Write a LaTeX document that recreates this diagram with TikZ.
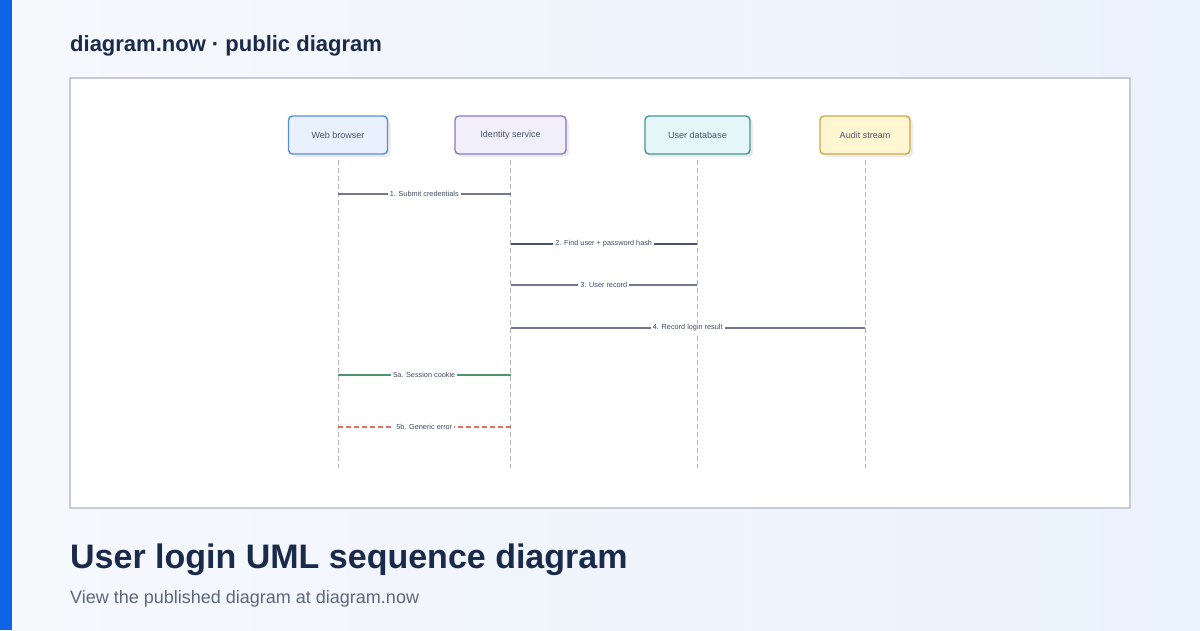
\documentclass[tikz,border=0pt]{standalone}
\usepackage{fontspec}
\setmainfont{Liberation Sans}
\usetikzlibrary{shadows,calc}
\definecolor{ink}{RGB}{26,42,74}
\definecolor{subink}{RGB}{90,104,128}
\definecolor{brand}{RGB}{14,99,230}
\definecolor{bgleft}{RGB}{246,248,252}
\definecolor{bgright}{RGB}{234,242,253}
\definecolor{lifegray}{RGB}{176,180,192}
\definecolor{msggray}{RGB}{110,120,145}
\definecolor{msgnavy}{RGB}{70,82,115}
\definecolor{msggreen}{RGB}{76,150,110}
\definecolor{msgred}{RGB}{226,110,104}
\definecolor{wb_draw}{RGB}{84,142,226}
\definecolor{wb_fill}{RGB}{232,241,253}
\definecolor{id_draw}{RGB}{140,118,204}
\definecolor{id_fill}{RGB}{242,239,252}
\definecolor{db_draw}{RGB}{70,148,150}
\definecolor{db_fill}{RGB}{228,246,248}
\definecolor{au_draw}{RGB}{204,168,70}
\definecolor{au_fill}{RGB}{255,246,210}
\tikzset{
  actor/.style={rectangle,rounded corners=4pt,line width=1.4pt,minimum height=38pt,
    font=\fontsize{9}{10}\selectfont,text=ink!80,
    drop shadow={shadow xshift=3pt,shadow yshift=-3pt,opacity=0.15}},
  life/.style={lifegray,line width=1pt,dash pattern=on 5pt off 3pt},
  msg/.style={line width=1.3pt},
  alt/.style={dash pattern=on 5pt off 3pt},
  lbl/.style={fill=white,inner sep=2pt,font=\fontsize{7.3}{8}\selectfont,text=ink!85}
}
\begin{document}
\begin{tikzpicture}[x=1pt,y=-1pt]
  \useasboundingbox (0,0) rectangle (1200,630);
  \shade[left color=bgleft,right color=bgright] (0,0) rectangle (1200,630);
  \fill[brand] (0,0) rectangle (12,630);
  \node[anchor=west,inner sep=0pt,font=\bfseries\fontsize{22}{24}\selectfont,text=ink] (head) at (70,46) {diagram.now · public diagram};
  \draw[fill=white,draw=lifegray!70,line width=1.2pt] (70,78) rectangle (1130,508);
  % actors
  \node[actor,draw=wb_draw,fill=wb_fill,minimum width=99pt] (wb) at (338,135) {Web browser};
  \node[actor,draw=id_draw,fill=id_fill,minimum width=111pt] (ids) at (510.5,135) {Identity service};
  \node[actor,draw=db_draw,fill=db_fill,minimum width=105pt] (udb) at (697.5,135) {User database};
  \node[actor,draw=au_draw,fill=au_fill,minimum width=90pt] (aud) at (865,135) {Audit stream};
  % lifelines
  \foreach \a/\x in {wb/338,ids/510.5,udb/697,aud/865}{
    \coordinate (\a top) at (\x,160);
    \coordinate (\a bot) at (\x,468);
    \draw[life] (\a top) -- (\a bot);
  }
  % messages
  \foreach \f/\t/\y/\c/\n/\s in {wb/ids/194/msggray/m1/solid,ids/udb/244/msgnavy/m2/solid,
      ids/udb/285/msggray/m3/solid,ids/aud/328/msggray/m4/solid,
      wb/ids/375/msggreen/m5a/solid,wb/ids/427/msgred/m5b/alt}{
    \coordinate (\n s) at (\f top |- 0,\y);
    \coordinate (\n e) at (\t top |- 0,\y);
    \draw[msg,draw=\c,\s] (\n s) -- (\n e);
  }
  \node[lbl] (l1) at ($(m1s)!0.5!(m1e)$) {1. Submit credentials};
  \node[lbl] (l2) at ($(m2s)!0.5!(m2e)$) {2. Find user + password hash};
  \node[lbl] (l3) at ($(m3s)!0.5!(m3e)$) {3. User record};
  \node[lbl] (l4) at ($(m4s)!0.5!(m4e)$) {4. Record login result};
  \node[lbl] (l5a) at ($(m5as)!0.5!(m5ae)$) {5a. Session cookie};
  \node[lbl] (l5b) at ($(m5bs)!0.5!(m5be)$) {5b. Generic error};
  % footer
  \node[anchor=west,inner sep=0pt,font=\bfseries\fontsize{34}{38}\selectfont,text=ink] (title) at (70,560) {User login UML sequence diagram};
  \node[anchor=west,inner sep=0pt,font=\fontsize{18}{20}\selectfont,text=subink] (sub) at (70,599) {View the published diagram at diagram.now};
\end{tikzpicture}
\end{document}
